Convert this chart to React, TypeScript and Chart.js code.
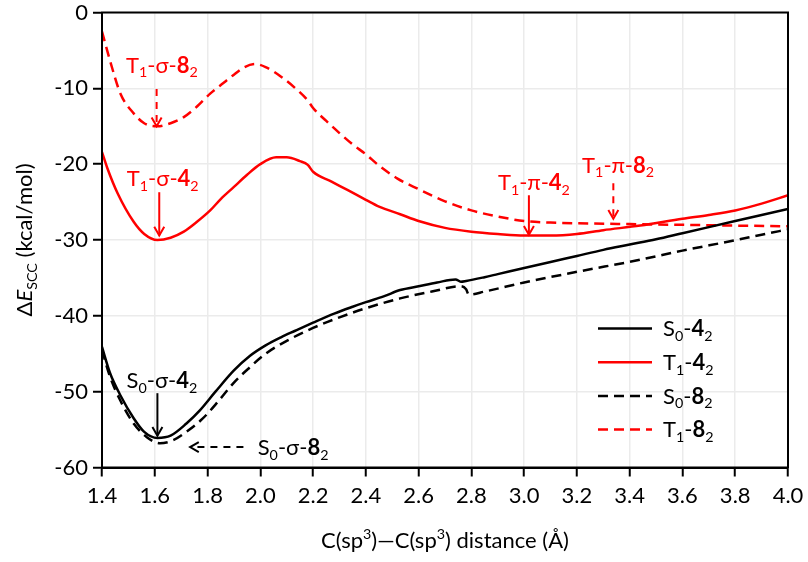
import React, { useEffect, useRef } from "react";
import { Chart, registerables } from "chart.js";
Chart.register(...registerables);

// ---------- data ----------
const s04X = [1.40, 1.43, 1.47, 1.52, 1.56, 1.61, 1.66, 1.72, 1.77, 1.83, 1.90, 1.96, 2.02, 2.08, 2.13, 2.20, 2.28, 2.35, 2.40, 2.47, 2.53, 2.60, 2.67, 2.74, 2.76, 2.78, 2.85, 2.90, 3.00, 3.10, 3.20, 3.30, 3.40, 3.50, 3.60, 3.70, 3.80, 3.90, 4.00];
const s04Y = [-44.1, -47.5, -50.5, -53.5, -55.3, -56.1, -55.8, -54.2, -52.5, -50.0, -47.2, -45.3, -43.9, -42.8, -42.0, -40.9, -39.7, -38.8, -38.2, -37.4, -36.6, -36.1, -35.6, -35.2, -35.5, -35.4, -34.9, -34.5, -33.7, -32.9, -32.1, -31.3, -30.6, -29.9, -29.1, -28.3, -27.5, -26.7, -25.9];

const t14X = [1.40, 1.42, 1.46, 1.52, 1.56, 1.61, 1.66, 1.71, 1.76, 1.81, 1.85, 1.90, 1.95, 2.00, 2.06, 2.10, 2.15, 2.18, 2.20, 2.27, 2.33, 2.40, 2.45, 2.53, 2.60, 2.70, 2.80, 2.90, 3.00, 3.10, 3.20, 3.30, 3.44, 3.60, 3.70, 3.80, 3.90, 4.00];
const t14Y = [-18.4, -20.5, -23.9, -27.6, -29.2, -30.0, -29.7, -28.9, -27.6, -26.1, -24.6, -23.0, -21.4, -20.0, -19.1, -19.1, -19.6, -20.1, -21.0, -22.3, -23.4, -24.7, -25.6, -26.6, -27.5, -28.4, -28.9, -29.2, -29.4, -29.4, -29.2, -28.7, -28.1, -27.2, -26.7, -26.1, -25.2, -24.1];

const s08X = [1.40, 1.43, 1.47, 1.52, 1.57, 1.62, 1.67, 1.72, 1.78, 1.84, 1.90, 1.96, 2.02, 2.10, 2.20, 2.30, 2.40, 2.53, 2.65, 2.76, 2.78, 2.79, 2.85, 3.00, 3.20, 3.44, 3.60, 3.79, 3.90, 4.00];
const s08Y = [-44.5, -48.0, -51.2, -54.2, -56.0, -56.8, -56.4, -55.3, -53.6, -51.3, -48.8, -46.8, -45.0, -43.3, -41.6, -40.2, -39.0, -37.7, -36.8, -36.1, -36.5, -37.2, -36.8, -35.6, -34.2, -32.6, -31.4, -30.1, -29.3, -28.6];

const t18X = [1.40, 1.43, 1.47, 1.52, 1.56, 1.61, 1.66, 1.71, 1.76, 1.81, 1.86, 1.90, 1.94, 1.98, 2.02, 2.08, 2.13, 2.18, 2.20, 2.25, 2.30, 2.35, 2.40, 2.45, 2.52, 2.60, 2.70, 2.80, 2.90, 3.00, 3.10, 3.20, 3.40, 3.60, 3.80, 4.00];
const t18Y = [-2.5, -6.3, -10.7, -13.3, -14.6, -15.0, -14.6, -13.8, -12.4, -10.7, -9.3, -8.2, -7.2, -6.8, -7.2, -8.5, -9.9, -11.6, -12.6, -14.3, -15.9, -17.4, -18.7, -20.2, -21.9, -23.3, -24.9, -26.1, -26.9, -27.5, -27.7, -27.8, -27.9, -28.0, -28.1, -28.2];

const xTicksMin = 1.4;
const xTicksMax = 4.0;
const xTickStep = 0.2;
const yTicksMin = -60;
const yTicksMax = 0;
const yTickStep = 10;

// annotations (text anchor in data units, arrow from/to in data units)
const annotText = ["T1-σ-82", "T1-σ-42", "T1-π-42", "T1-π-82", "S0-σ-42", "S0-σ-82"];
const annotTextX = [1.627, 1.63, 3.037, 3.356, 1.627, 1.99];
const annotTextY = [-6.9, -21.9, -22.4, -20.1, -48.5, -57.4];
const annotArrowX1 = [1.607, 1.617, 3.018, 3.338, 1.61, 1.936];
const annotArrowY1 = [-10.1, -23.7, -24.1, -22.5, -50.2, -57.3];
const annotArrowX2 = [1.607, 1.617, 3.018, 3.338, 1.61, 1.734];
const annotArrowY2 = [-15.0, -29.4, -29.3, -27.2, -55.8, -57.3];
const annotColor = ["red", "red", "red", "red", "black", "black"];
const annotDashed = [true, false, false, true, false, true];
const annotAlign = ["center", "center", "center", "center", "center", "left"];

const seriesNames = ["S0-42", "T1-42", "S0-82", "T1-82"];

const FONT = "Lato, 'Open Sans', sans-serif";
const FS = 22;

type Seg = { t: string; b?: boolean; i?: boolean; sub?: boolean; sup?: boolean };

function chemSegs(s: string): Seg[] {
  const first = s[0];
  const state = s[1];
  const rest = s.slice(2, s.length - 2);
  const num = s[s.length - 2];
  const sub2 = s[s.length - 1];
  return [
    { t: first },
    { t: state, sub: true },
    { t: rest },
    { t: num, b: true },
    { t: sub2, sub: true },
  ];
}

function segFont(seg: Seg, size: number) {
  const sz = seg.sub || seg.sup ? size * 0.65 : size;
  return `${seg.i ? "italic " : ""}${seg.b ? "bold " : ""}${sz}px ${FONT}`;
}

function measureRich(ctx: CanvasRenderingContext2D, segs: Seg[], size: number) {
  let w = 0;
  for (const s of segs) {
    ctx.font = segFont(s, size);
    w += ctx.measureText(s.t).width;
  }
  return w;
}

function drawRich(
  ctx: CanvasRenderingContext2D,
  segs: Seg[],
  x: number,
  cy: number,
  size: number,
  color: string,
  align: string
) {
  const w = measureRich(ctx, segs, size);
  let cx = align === "center" ? x - w / 2 : align === "right" ? x - w : x;
  const base = cy + size * 0.35;
  ctx.fillStyle = color;
  ctx.textBaseline = "alphabetic";
  ctx.textAlign = "left";
  for (const s of segs) {
    ctx.font = segFont(s, size);
    let yy = base;
    if (s.sub) yy = base + size * 0.22;
    if (s.sup) yy = base - size * 0.4;
    ctx.fillText(s.t, cx, yy);
    cx += ctx.measureText(s.t).width;
  }
}

function drawArrow(
  ctx: CanvasRenderingContext2D,
  x1: number,
  y1: number,
  x2: number,
  y2: number,
  color: string,
  dashed: boolean
) {
  ctx.save();
  ctx.strokeStyle = color;
  ctx.lineWidth = 2;
  ctx.setLineDash(dashed ? [7, 6] : []);
  ctx.beginPath();
  ctx.moveTo(x1, y1);
  ctx.lineTo(x2, y2);
  ctx.stroke();
  ctx.setLineDash([]);
  const ang = Math.atan2(y2 - y1, x2 - x1);
  const L = 10;
  const a = Math.PI / 6;
  ctx.beginPath();
  ctx.moveTo(x2 - L * Math.cos(ang - a), y2 - L * Math.sin(ang - a));
  ctx.lineTo(x2, y2);
  ctx.lineTo(x2 - L * Math.cos(ang + a), y2 - L * Math.sin(ang + a));
  ctx.stroke();
  ctx.restore();
}

const pts = (xs: number[], ys: number[]) => xs.map((x, i) => ({ x, y: ys[i] }));

const overlayPlugin = {
  id: "overlay",
  afterDraw(chart: any) {
    const ctx: CanvasRenderingContext2D = chart.ctx;
    const { left, right, top, bottom } = chart.chartArea;
    const xs = chart.scales.x;
    const ys = chart.scales.y;
    ctx.save();
    ctx.strokeStyle = "#000";
    ctx.lineWidth = 2;
    ctx.strokeRect(left, top, right - left, bottom - top);

    for (let i = 0; i < annotText.length; i++) {
      const tx = xs.getPixelForValue(annotTextX[i]);
      const ty = ys.getPixelForValue(annotTextY[i]);
      drawRich(ctx, chemSegs(annotText[i]), tx, ty, FS, annotColor[i], annotAlign[i]);
      drawArrow(
        ctx,
        xs.getPixelForValue(annotArrowX1[i]),
        ys.getPixelForValue(annotArrowY1[i]),
        xs.getPixelForValue(annotArrowX2[i]),
        ys.getPixelForValue(annotArrowY2[i]),
        annotColor[i],
        annotDashed[i]
      );
    }

    const ds = chart.data.datasets;
    const legX1 = right - 190;
    const legX2 = right - 136;
    const legY0 = bottom - 139;
    const legStep = 33.7;
    for (let i = 0; i < ds.length; i++) {
      const y = legY0 + i * legStep;
      ctx.save();
      ctx.strokeStyle = ds[i].borderColor;
      ctx.lineWidth = 2.5;
      ctx.setLineDash(ds[i].borderDash || []);
      ctx.beginPath();
      ctx.moveTo(legX1, y);
      ctx.lineTo(legX2, y);
      ctx.stroke();
      ctx.restore();
      drawRich(ctx, chemSegs(seriesNames[i]), legX2 + 11, y, FS, "#000", "left");
    }

    ctx.save();
    ctx.translate(24, (top + bottom) / 2);
    ctx.rotate(-Math.PI / 2);
    drawRich(
      ctx,
      [{ t: "Δ" }, { t: "E", i: true }, { t: "SCC", sub: true }, { t: " (kcal/mol)" }],
      0,
      0,
      FS,
      "#000",
      "center"
    );
    ctx.restore();

    drawRich(
      ctx,
      [{ t: "C(sp" }, { t: "3", sup: true }, { t: ")—C(sp" }, { t: "3", sup: true }, { t: ") distance (Å)" }],
      (left + right) / 2,
      bottom + 73,
      FS,
      "#000",
      "center"
    );
    ctx.restore();
  },
};

export default function App() {
  const ref = useRef<HTMLCanvasElement | null>(null);
  useEffect(() => {
    document.body.style.margin = "0";
    if (!ref.current) return;
    const lineBase = {
      pointRadius: 0,
      borderWidth: 2.5,
      fill: false,
      cubicInterpolationMode: "monotone" as const,
    };
    const chart = new Chart(ref.current, {
      type: "line",
      data: {
        datasets: [
          { ...lineBase, label: seriesNames[0], data: pts(s04X, s04Y), borderColor: "#000000" },
          { ...lineBase, label: seriesNames[1], data: pts(t14X, t14Y), borderColor: "#ff0000" },
          { ...lineBase, label: seriesNames[2], data: pts(s08X, s08Y), borderColor: "#000000", borderDash: [10, 6] },
          { ...lineBase, label: seriesNames[3], data: pts(t18X, t18Y), borderColor: "#ff0000", borderDash: [10, 6] },
        ] as any,
      },
      options: {
        animation: false,
        responsive: false,
        maintainAspectRatio: false,
        layout: { padding: { top: 12.5, right: 20, left: 0, bottom: 0 } },
        plugins: { legend: { display: false }, tooltip: { enabled: false } },
        scales: {
          x: {
            type: "linear",
            min: xTicksMin,
            max: xTicksMax,
            ticks: {
              stepSize: xTickStep,
              color: "#000",
              font: { family: FONT, size: FS },
              padding: 6,
              maxRotation: 0,
              autoSkip: false,
              callback: (v: any) => Number(v).toFixed(1),
            },
            grid: { color: "#ebebeb", lineWidth: 1.5, tickColor: "#000", tickLength: 9, tickWidth: 2 },
            border: { color: "#000", width: 2 },
            afterFit: (s: any) => {
              s.height = 94.5;
              s.paddingLeft = 0;
              s.paddingRight = 0;
            },
          },
          y: {
            type: "linear",
            min: yTicksMin,
            max: yTicksMax,
            ticks: {
              stepSize: yTickStep,
              color: "#000",
              font: { family: FONT, size: FS, lineHeight: 1 },
              padding: 5,
            },
            grid: { color: "#ebebeb", lineWidth: 1.5, tickColor: "#000", tickLength: 9, tickWidth: 2 },
            border: { color: "#000", width: 2 },
            afterFit: (s: any) => {
              s.width = 102;
              s.paddingTop = 0;
              s.paddingBottom = 0;
            },
          },
        },
      },
      plugins: [overlayPlugin],
    });
    return () => chart.destroy();
  }, []);
  return (
    <div style={{ width: 808, height: 562, background: "#fff" }}>
      <canvas ref={ref} width={808} height={562} style={{ display: "block" }} />
    </div>
  );
}
